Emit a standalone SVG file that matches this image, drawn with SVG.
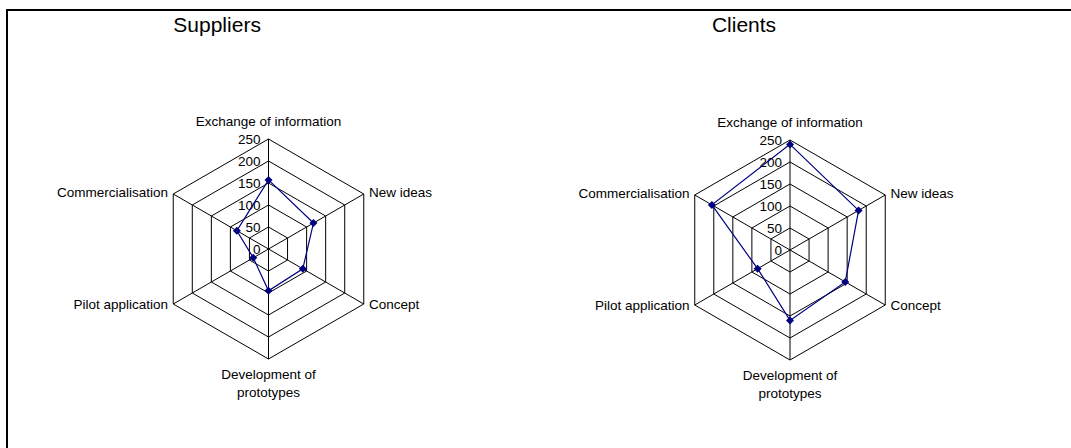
<svg xmlns="http://www.w3.org/2000/svg" width="1071" height="448" viewBox="0 0 1071 448">
  <style>
    .frame { fill: none; stroke: #000; stroke-width: 2; }
    .title { font-family: "Liberation Sans", Arial, sans-serif; font-size: 21px; fill: #000; text-anchor: middle; }
    .grid { fill: none; stroke: #000; stroke-width: 1; }
    .tick { font-family: "Liberation Sans", Arial, sans-serif; font-size: 13.5px; fill: #000; text-anchor: end; }
    .cat { font-family: "Liberation Sans", Arial, sans-serif; font-size: 13.5px; fill: #000; }
    .mid { text-anchor: middle; }
    .end { text-anchor: end; }
    .series { fill: none; stroke: #000080; stroke-width: 1.2; stroke-linejoin: miter; }
    .mark { fill: #000080; }
  </style>
  <defs>
    <!-- hexagonal radar grid, 5 rings of 22px plus the six spokes -->
    <g id="radar-grid">
      <polygon class="grid" points="0,-22 19.05,-11 19.05,11 0,22 -19.05,11 -19.05,-11"/>
      <polygon class="grid" points="0,-44 38.11,-22 38.11,22 0,44 -38.11,22 -38.11,-22"/>
      <polygon class="grid" points="0,-66 57.16,-33 57.16,33 0,66 -57.16,33 -57.16,-33"/>
      <polygon class="grid" points="0,-88 76.21,-44 76.21,44 0,88 -76.21,44 -76.21,-44"/>
      <polygon class="grid" points="0,-110 95.26,-55 95.26,55 0,110 -95.26,55 -95.26,-55"/>
      <path class="grid" d="M0,0 V-110 M0,0 L95.26,-55 M0,0 L95.26,55 M0,0 V110 M0,0 L-95.26,55 M0,0 L-95.26,-55"/>
      <!-- value axis labels -->
      <text class="tick" x="-8" y="4.5">0</text>
      <text class="tick" x="-8" y="-17.5">50</text>
      <text class="tick" x="-8" y="-39.5">100</text>
      <text class="tick" x="-8" y="-61.5">150</text>
      <text class="tick" x="-8" y="-83.5">200</text>
      <text class="tick" x="-8" y="-105.5">250</text>
      <!-- category labels -->
      <text class="cat mid" x="0" y="-123">Exchange of information</text>
      <text class="cat" x="100.5" y="-51.7">New ideas</text>
      <text class="cat" x="100.5" y="60">Concept</text>
      <text class="cat mid" x="0" y="130">Development of</text>
      <text class="cat mid" x="0" y="147.5">prototypes</text>
      <text class="cat end" x="-100.5" y="60">Pilot application</text>
      <text class="cat end" x="-100.5" y="-51.7">Commercialisation</text>
    </g>
    <path id="diamond" class="mark" d="M0,-4 L4,0 L0,4 L-4,0 Z"/>
  </defs>

  <!-- chart area border (top and left edges in view) -->
  <path class="frame" d="M7,448 V10 H1071"/>

  <g id="suppliers-chart" transform="translate(268.5,249)">
    <text class="title" x="-51.4" y="-217.5">Suppliers</text>
    <use href="#radar-grid"/>
    <polygon class="series" points="0,-69.1 44.96,-25.96 34.29,19.8 0,41.8 -15.24,8.8 -31.62,-18.26"/>
    <use href="#diamond" x="0" y="-69.1"/>
    <use href="#diamond" x="44.96" y="-25.96"/>
    <use href="#diamond" x="34.29" y="19.8"/>
    <use href="#diamond" x="0" y="41.8"/>
    <use href="#diamond" x="-15.24" y="8.8"/>
    <use href="#diamond" x="-31.62" y="-18.26"/>
  </g>

  <g id="clients-chart" transform="translate(790,250)">
    <text class="title" x="-46" y="-218.3">Clients</text>
    <use href="#radar-grid"/>
    <polygon class="series" points="0,-105.6 68.59,-39.6 55.25,31.9 0,70.4 -32.39,18.7 -78.11,-45.1"/>
    <use href="#diamond" x="0" y="-105.6"/>
    <use href="#diamond" x="68.59" y="-39.6"/>
    <use href="#diamond" x="55.25" y="31.9"/>
    <use href="#diamond" x="0" y="70.4"/>
    <use href="#diamond" x="-32.39" y="18.7"/>
    <use href="#diamond" x="-78.11" y="-45.1"/>
  </g>
</svg>
